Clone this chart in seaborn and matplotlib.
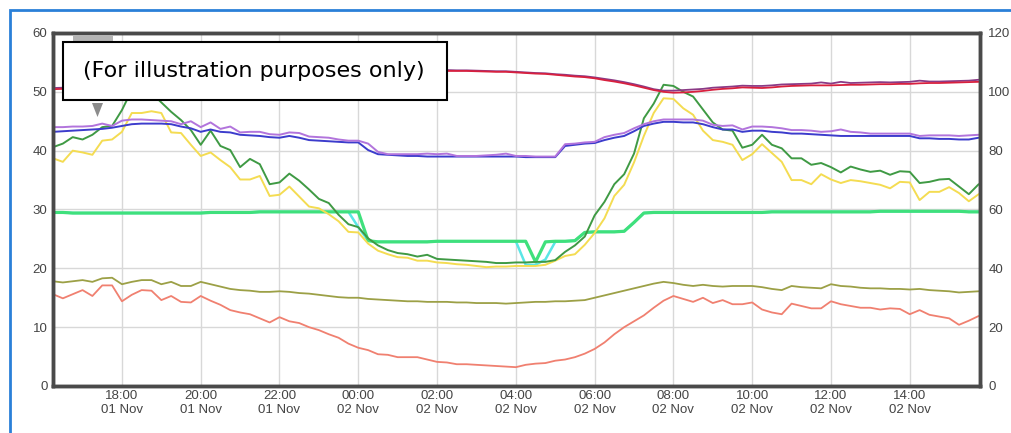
import matplotlib
matplotlib.use("Agg")
import matplotlib.pyplot as plt
import matplotlib.dates as mdates
from matplotlib.patches import Rectangle, Polygon
import pandas as pd
import seaborn as sns

# 15 minute samples, 01 Nov 16:15 -> 02 Nov 15:45
times = pd.date_range("2014-11-01 16:15", periods=95, freq="15min")

green = [40.6, 41.2, 42.3, 41.9, 42.7, 44.0, 44.2, 46.9, 50.3, 50.8,
         49.8, 48.2, 46.6, 45.2, 43.5, 41.0, 43.4, 40.8, 40.1, 37.2,
         38.6, 37.7, 34.3, 34.6, 36.1, 34.9, 33.4, 31.8, 31.1, 29.1,
         27.5, 27.0, 25.1, 23.9, 23.1, 22.6, 22.4, 22.0, 22.3, 21.6,
         21.5, 21.4, 21.3, 21.2, 21.1, 20.9, 20.9, 21.0, 21.0, 21.1,
         21.1, 21.4, 22.8, 23.9, 25.4, 29.0, 31.3, 34.3, 36.0, 39.5,
         45.5, 48.0, 51.2, 51.0, 50.0, 49.2, 47.0, 44.8, 43.6, 43.4,
         40.5, 41.0, 42.7, 41.0, 40.4, 38.7, 38.7, 37.6, 37.9, 37.2,
         36.3, 37.3, 36.8, 36.4, 36.6, 35.9, 36.5, 36.4, 34.5, 34.7,
         35.1, 35.2, 33.9, 32.6, 34.3]
yellow = [38.7, 38.1, 40.0, 39.7, 39.3, 41.7, 41.9, 43.2, 46.4, 46.4,
          46.7, 46.4, 43.1, 43.0, 41.0, 39.1, 39.7, 38.4, 37.2, 35.1,
          35.1, 35.7, 32.3, 32.5, 33.9, 32.2, 30.5, 30.2, 29.2, 28.0,
          26.2, 26.1, 24.2, 23.0, 22.4, 21.9, 21.8, 21.3, 21.3, 21.0,
          20.9, 20.7, 20.6, 20.4, 20.2, 20.3, 20.3, 20.4, 20.4, 20.4,
          20.6, 21.3, 22.1, 22.4, 24.0, 26.0, 28.5, 32.3, 34.2, 38.0,
          42.5, 46.4, 48.9, 48.8, 47.2, 46.1, 43.4, 41.8, 41.5, 41.0,
          38.4, 39.4, 41.1, 39.6, 38.1, 35.0, 35.0, 34.3, 36.0, 35.1,
          34.5, 35.0, 34.8, 34.5, 34.2, 33.6, 34.7, 34.6, 31.6, 33.0,
          33.0, 33.8, 32.8, 31.4, 32.6]
violet = [44.0, 44.0, 44.1, 44.1, 44.2, 44.6, 44.2, 45.1, 45.3, 45.3,
          45.2, 45.1, 45.0, 44.5, 45.0, 44.0, 44.8, 43.7, 44.1, 43.1,
          43.2, 43.2, 42.8, 42.7, 43.1, 43.0, 42.4, 42.3, 42.2, 41.9,
          41.7, 41.7, 41.2, 39.8, 39.4, 39.4, 39.4, 39.4, 39.5, 39.4,
          39.5, 39.1, 39.1, 39.1, 39.2, 39.3, 39.5, 39.1, 39.1, 39.0,
          39.0, 39.0, 41.1, 41.2, 41.4, 41.5, 42.3, 42.7, 43.0, 43.8,
          44.5, 45.0, 45.3, 45.3, 45.3, 45.3, 45.1, 44.4, 44.2, 44.3,
          43.6, 44.1, 44.1, 44.0, 43.8, 43.5, 43.5, 43.4, 43.2, 43.3,
          43.6, 43.2, 43.1, 42.9, 42.9, 42.9, 42.9, 42.9, 42.5, 42.6,
          42.6, 42.6, 42.5, 42.6, 42.7]
blue = [43.2, 43.3, 43.4, 43.5, 43.6, 43.7, 43.9, 44.2, 44.5, 44.6,
        44.6, 44.6, 44.5, 44.1, 43.8, 43.2, 43.6, 43.2, 43.1, 42.7,
        42.6, 42.5, 42.3, 42.2, 42.5, 42.2, 41.8, 41.7, 41.6, 41.5,
        41.4, 41.4, 40.1, 39.4, 39.3, 39.2, 39.1, 39.1, 39.0, 39.0,
        39.0, 39.0, 39.0, 39.0, 39.0, 39.0, 39.0, 39.0, 38.9, 38.9,
        38.9, 38.9, 40.8, 41.0, 41.2, 41.3, 41.8, 42.2, 42.5, 43.3,
        44.2, 44.6, 44.9, 44.9, 44.8, 44.8, 44.5, 44.0, 43.6, 43.6,
        43.2, 43.4, 43.4, 43.2, 43.1, 42.9, 42.9, 42.8, 42.7, 42.6,
        42.5, 42.5, 42.5, 42.5, 42.5, 42.5, 42.5, 42.5, 42.1, 42.1,
        42.0, 42.0, 41.9, 41.9, 42.2]
lime = [29.5, 29.5, 29.4, 29.4, 29.4, 29.4, 29.4, 29.4, 29.4, 29.4,
        29.4, 29.4, 29.4, 29.4, 29.4, 29.4, 29.5, 29.5, 29.5, 29.5,
        29.5, 29.6, 29.6, 29.6, 29.6, 29.6, 29.6, 29.6, 29.6, 29.6,
        29.6, 29.6, 24.7, 24.5, 24.5, 24.5, 24.5, 24.5, 24.5, 24.6,
        24.6, 24.6, 24.6, 24.6, 24.6, 24.6, 24.6, 24.6, 24.6, 21.1,
        24.5, 24.6, 24.6, 24.7, 26.1, 26.2, 26.2, 26.2, 26.3, 27.8,
        29.4, 29.5, 29.5, 29.5, 29.5, 29.5, 29.5, 29.5, 29.5, 29.5,
        29.5, 29.5, 29.5, 29.6, 29.6, 29.6, 29.6, 29.6, 29.6, 29.6,
        29.6, 29.6, 29.6, 29.6, 29.7, 29.7, 29.7, 29.7, 29.7, 29.7,
        29.7, 29.7, 29.7, 29.6, 29.6]
cyan = [29.5, 29.5, 29.4, 29.4, 29.4, 29.4, 29.4, 29.4, 29.4, 29.4,
        29.4, 29.4, 29.4, 29.4, 29.4, 29.4, 29.5, 29.5, 29.5, 29.5,
        29.5, 29.6, 29.6, 29.6, 29.6, 29.6, 29.6, 29.6, 29.6, 29.6,
        29.6, 27.0, 24.7, 24.5, 24.5, 24.5, 24.5, 24.5, 24.5, 24.6,
        24.6, 24.6, 24.6, 24.6, 24.6, 24.6, 24.6, 24.6, 20.6, 20.6,
        21.5, 24.5, 24.6, 24.7, 26.1, 26.2, 26.2, 26.2, 26.3, 27.8,
        29.4, 29.5, 29.5, 29.5, 29.5, 29.5, 29.5, 29.5, 29.5, 29.5,
        29.5, 29.5, 29.5, 29.6, 29.6, 29.6, 29.6, 29.6, 29.6, 29.6,
        29.6, 29.6, 29.6, 29.6, 29.7, 29.7, 29.7, 29.7, 29.7, 29.7,
        29.7, 29.7, 29.7, 29.6, 29.6]
olive = [17.8, 17.6, 17.8, 18.0, 17.7, 18.3, 18.4, 17.3, 17.7, 18.0,
         18.0, 17.3, 17.7, 17.0, 17.0, 17.7, 17.3, 16.9, 16.5, 16.3,
         16.2, 16.0, 16.0, 16.1, 16.0, 15.8, 15.7, 15.5, 15.3, 15.1,
         15.0, 15.0, 14.8, 14.7, 14.6, 14.5, 14.4, 14.4, 14.3, 14.3,
         14.3, 14.2, 14.2, 14.1, 14.1, 14.1, 14.0, 14.1, 14.2, 14.3,
         14.3, 14.4, 14.4, 14.5, 14.6, 15.0, 15.4, 15.8, 16.2, 16.6,
         17.0, 17.4, 17.7, 17.5, 17.2, 17.0, 17.2, 17.0, 16.9, 17.0,
         17.0, 17.0, 16.8, 16.5, 16.3, 17.0, 16.8, 16.7, 16.6, 17.3,
         17.0, 16.9, 16.7, 16.6, 16.6, 16.5, 16.5, 16.4, 16.5, 16.3,
         16.2, 16.1, 15.9, 16.0, 16.1]
salmon = [15.6, 14.9, 15.6, 16.3, 15.3, 17.1, 17.1, 14.4, 15.5, 16.3,
          16.2, 14.6, 15.3, 14.3, 14.2, 15.3, 14.5, 13.8, 12.9, 12.5,
          12.2, 11.5, 10.8, 11.7, 11.0, 10.7, 10.0, 9.5, 8.8, 8.2,
          7.2, 6.5, 6.1, 5.4, 5.3, 4.9, 4.9, 4.9, 4.5, 4.1,
          4.0, 3.7, 3.7, 3.6, 3.5, 3.4, 3.3, 3.2, 3.6, 3.8,
          3.9, 4.3, 4.5, 4.9, 5.5, 6.3, 7.4, 8.8, 10.0, 11.0,
          12.0, 13.3, 14.5, 15.3, 14.8, 14.3, 15.0, 14.1, 14.6, 13.9,
          13.9, 14.2, 13.0, 12.5, 12.2, 14.0, 13.6, 13.2, 13.2, 14.4,
          13.9, 13.6, 13.3, 13.3, 13.0, 13.2, 13.1, 12.2, 12.9, 12.1,
          11.8, 11.5, 10.4, 11.1, 11.9]
# right hand axis
red = [100.9, 101.0, 101.2, 101.4, 101.6, 101.8, 102.0, 102.2, 102.4, 102.6,
       102.8, 103.0, 103.2, 103.4, 103.6, 103.8, 104.0, 104.2, 104.4, 104.6,
       104.8, 105.0, 105.2, 105.4, 105.6, 105.8, 106.0, 106.2, 106.3, 106.5,
       106.6, 106.7, 106.8, 106.9, 107.0, 107.0, 107.1, 107.1, 107.1, 107.1,
       107.1, 107.1, 107.1, 107.0, 106.9, 106.8, 106.8, 106.6, 106.4, 106.2,
       106.1, 105.8, 105.5, 105.2, 105.0, 104.6, 104.0, 103.5, 102.9, 102.2,
       101.4, 100.6, 100.0, 99.7, 99.8, 100.0, 100.3, 100.7, 101.0, 101.2,
       101.5, 101.4, 101.3, 101.5, 101.8, 102.0, 102.1, 102.2, 102.2, 102.2,
       102.3, 102.4, 102.4, 102.5, 102.6, 102.6, 102.7, 102.7, 102.9, 103.0,
       103.0, 103.1, 103.2, 103.3, 103.4]
plum = [101.3, 101.4, 101.5, 101.7, 101.9, 102.1, 102.3, 102.5, 102.7, 102.9,
        103.1, 103.3, 103.5, 103.7, 103.9, 104.1, 104.3, 104.5, 104.7, 104.9,
        105.1, 105.3, 105.5, 105.7, 105.9, 106.1, 106.3, 106.5, 106.6, 106.8,
        106.9, 107.0, 107.1, 107.2, 107.3, 107.3, 107.4, 107.4, 107.4, 107.4,
        107.4, 107.3, 107.3, 107.2, 107.1, 107.0, 107.0, 106.8, 106.6, 106.4,
        106.3, 106.0, 105.8, 105.5, 105.3, 104.9, 104.4, 103.9, 103.3, 102.6,
        101.8, 100.9, 100.4, 100.4, 100.6, 100.8, 101.0, 101.4, 101.6, 101.8,
        102.1, 102.0, 102.0, 102.2, 102.5, 102.6, 102.7, 102.8, 103.2, 102.8,
        103.4, 103.0, 103.1, 103.2, 103.3, 103.2, 103.3, 103.4, 103.8, 103.5,
        103.5, 103.6, 103.7, 103.8, 104.1]

left_ticks = [0, 10, 20, 30, 40, 50, 60]
right_ticks = [0, 20, 40, 60, 80, 100, 120]

sns.set_style("white")
plt.rcParams['font.family'] = ['Liberation Sans', 'DejaVu Sans']

W, H = 1012, 433
fig = plt.figure(figsize=(W / 100, H / 100), dpi=100)
fig.patch.set_facecolor('white')
ax = fig.add_axes([53 / W, 1 - 386 / H, 927 / W, 353 / H])

# left axis series: (values, colour, width)
left_series = [
    (salmon, '#f08070', 1.3),
    (olive, '#9ca046', 1.3),
    (cyan, '#5ae6e6', 1.8),
    (lime, '#3fe07c', 2.3),
    (yellow, '#f4dc52', 1.4),
    (green, '#3f9a44', 1.4),
    (blue, '#3c3ccc', 1.4),
    (violet, '#b274dc', 1.4),
]
for vals, col, lw in left_series:
    sns.lineplot(x=times, y=vals, ax=ax, color=col, linewidth=lw)

ax.set_ylim(0, 60)
ax.set_yticks(left_ticks)
ax.set_xlim(pd.Timestamp("2014-11-01 16:15"), pd.Timestamp("2014-11-02 15:47"))
ax.xaxis.set_major_locator(mdates.HourLocator(byhour=range(0, 24, 2)))
ax.xaxis.set_major_formatter(mdates.DateFormatter('%H:%M\n%d %b'))
ax.grid(True, color='#d8d8d8', linewidth=1)
ax.set_axisbelow(True)
ax.tick_params(axis='both', length=0, labelsize=9.5, colors='#444444')
ax.tick_params(axis='y', pad=4)
ax.tick_params(axis='x', pad=3)
ax.set_xlabel('')
ax.set_ylabel('')

ax2 = ax.twinx()
sns.lineplot(x=times, y=plum, ax=ax2, color='#8a3a86', linewidth=1.3)
sns.lineplot(x=times, y=red, ax=ax2, color='#d8203e', linewidth=1.3)
ax2.set_ylim(0, 120)
ax2.set_yticks(right_ticks)
ax2.grid(False)
ax2.tick_params(axis='y', length=0, labelsize=9.5, colors='#444444', pad=6)
ax2.set_ylabel('')

for a in (ax, ax2):
    for sp in a.spines.values():
        sp.set_color('#4a4a4a')
        sp.set_linewidth(2.5)

def fx(px):
    return px / W

def fy(py):
    return 1 - py / H

# blue outer frame
fig.add_artist(Rectangle((fx(10), -0.1), 1.2, fy(10) + 0.1, transform=fig.transFigure,
                         fill=False, ec='#2a80d8', lw=2, zorder=1))
# grey button tab behind the notice
fig.add_artist(Rectangle((fx(73), fy(48)), fx(40), 13 / H, transform=fig.transFigure,
                         fc='#b4b4b4', ec='none', zorder=4))
# notice box
fig.add_artist(Rectangle((fx(63), fy(100)), fx(384), 58 / H, transform=fig.transFigure,
                         fc='white', ec='black', lw=1.5, zorder=5))
fig.text(fx(83), fy(71), "(For illustration purposes only)", fontsize=16,
         family=['DejaVu Sans'], va='center', ha='left', color='black', zorder=6)
# little grey arrow
fig.add_artist(Polygon([(fx(92), fy(103)), (fx(103), fy(103)), (fx(97.5), fy(117))],
                       closed=True, transform=fig.transFigure, fc='#8c8c8c', ec='none', zorder=5))

fig.savefig('out.png', dpi=100)
